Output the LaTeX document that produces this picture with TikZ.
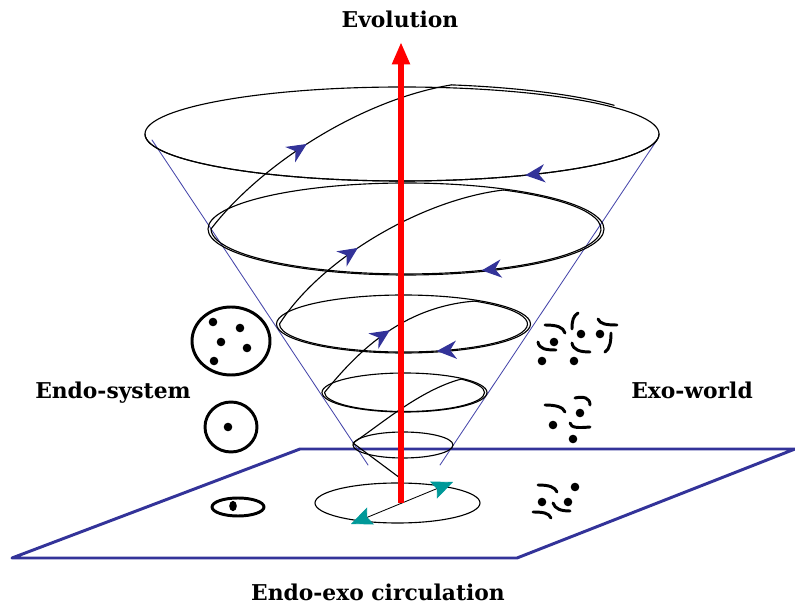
\documentclass[tikz,border=0pt]{standalone}
\usepackage{fontspec}
\setmainfont{DejaVu Serif}
\usetikzlibrary{arrows.meta,decorations.markings}
\definecolor{navy}{RGB}{51,51,153}
\definecolor{conecol}{RGB}{70,70,170}
\definecolor{tealtip}{RGB}{0,153,153}
\tikzset{
  loopline/.style={line width=0.8pt},
  flowtip/.style={postaction={decorate},
    decoration={markings,mark=at position #1 with {\arrow{Stealth[length=14pt,width=13pt,inset=4.5pt,color=navy]}}}},
  symb/.style={line width=2.1pt},
  titletext/.style={font=\bfseries\fontsize{15.5}{18}\selectfont}
}

\begin{document}
\begin{tikzpicture}[x=0.025cm,y=0.025cm,line cap=round,line join=round]
  \useasboundingbox (0,0) rectangle (795,605);
  % plane
  \draw[navy,line width=2.1pt] (12,47) -- (300,156) -- (795,156) -- (517,47) -- cycle;
  % cone
  \draw[conecol,line width=0.6pt] (152,465) -- (368,140);
  \draw[conecol,line width=0.6pt] (657,465) -- (440,140);
  % rings
  \draw[loopline] (402,471) ellipse [x radius=257,y radius=47];
  \draw[loopline] (406,376) ellipse [x radius=198,y radius=46];
  \draw[loopline] (403.5,281) ellipse [x radius=127,y radius=29];
  \draw[loopline] (404.5,212.5) ellipse [x radius=82.5,y radius=19.5];
  \draw[loopline] (403,160) ellipse [x radius=50,y radius=13];
  \draw[loopline] (397.5,102) ellipse [x radius=82.5,y radius=20];
  \draw[loopline,flowtip=0.27] (659,471) arc[start angle=0,end angle=-180,x radius=257,y radius=47];
  % spiral
  \draw[loopline] (400,127) -- (353,162) .. controls (380,180) and (420,215) .. (461.1,225.9)
    arc[start angle=45,end angle=-180,x radius=80,y radius=19];
  \draw[loopline,flowtip=0.5] (324.5,212.5) .. controls (355,250) and (400,298) .. (474.6,303.9);
  \draw[loopline,flowtip=0.49] (474.6,303.9) arc[start angle=55,end angle=-180,x radius=124,y radius=28];
  \draw[loopline,flowtip=0.41] (279.5,281) .. controls (320,345) and (420,405) .. (503.5,415);
  \draw[loopline,flowtip=0.46] (503.5,415) arc[start angle=60,end angle=-180,x radius=195,y radius=45];
  \draw[loopline,flowtip=0.45] (211,376) .. controls (260,440) and (360,505) .. (451.4,520.1);
  \draw[loopline] (451.4,520.1) arc[start angle=79,end angle=35,x radius=259,y radius=50];
  % circulation
  \draw[line width=0.6pt,{Stealth[length=15pt,width=13pt,inset=2.5pt,color=tealtip]}-{Stealth[length=15pt,width=13pt,inset=2.5pt,color=tealtip]}] (351,81) -- (453,123);
  % endo-system
  \draw[symb] (231,264) ellipse [x radius=39,y radius=34];
  \foreach \p in {(213,283),(240,277),(221,263),(247,257),(214,244)}
    \fill \p circle[radius=4.3];
  \draw[symb] (231,178) ellipse [x radius=26,y radius=25];
  \fill (228,178) circle[radius=4.3];
  \draw[symb] (238,98) ellipse [x radius=26,y radius=9];
  \fill (233,99) ellipse [x radius=3.8,y radius=5.2];
  % exo-world
  \draw[symb] (545,280) .. controls (557,280) and (563,278) .. (565,272);
  \draw[symb] (538,263) .. controls (539,256) and (546,255) .. (556,255);
  \draw[symb] (578,292) .. controls (573,289) and (572,284) .. (572,276);
  \draw[symb] (572,262) .. controls (573,255) and (580,253) .. (590,253);
  \draw[symb] (598,286) .. controls (600,281) and (606,280) .. (617,280);
  \draw[symb] (611,272) .. controls (611,264) and (610,256) .. (605,253);
  \foreach \p in {(554,263),(542,244),(581,271),(574,244),(600,271)}
    \fill \p circle[radius=4.3];
  \draw[symb] (545,200) .. controls (556,200) and (563,198) .. (565,193);
  \draw[symb] (575,207) .. controls (584,209) and (590,207) .. (590,200);
  \draw[symb] (570,182) .. controls (571,177) and (578,177) .. (590,178);
  \foreach \p in {(580,192),(553,180),(573,166)}
    \fill \p circle[radius=4.3];
  \draw[symb] (538,120) .. controls (549,120) and (555,118) .. (557,113);
  \draw[symb] (553,102) .. controls (555,96) and (561,94) .. (570,94);
  \draw[symb] (533,93) .. controls (543,93) and (549,92) .. (551,87);
  \foreach \p in {(575,118),(542,103),(568,103)}
    \fill \p circle[radius=4.3];
  % evolution axis
  \draw[red,line width=4.3pt,line cap=butt,-{Triangle[length=16pt,width=12pt]}] (401,102) -- (401,563);
  % labels
  \node[titletext] (evo) at (400,586) {Evolution};
  \node[titletext] (endo) at (113,212) {Endo-system};
  \node[titletext] (exo) at (692,215) {Exo-world};
  \node[titletext] (circ) at (378,13) {Endo-exo circulation};
\end{tikzpicture}
\end{document}
